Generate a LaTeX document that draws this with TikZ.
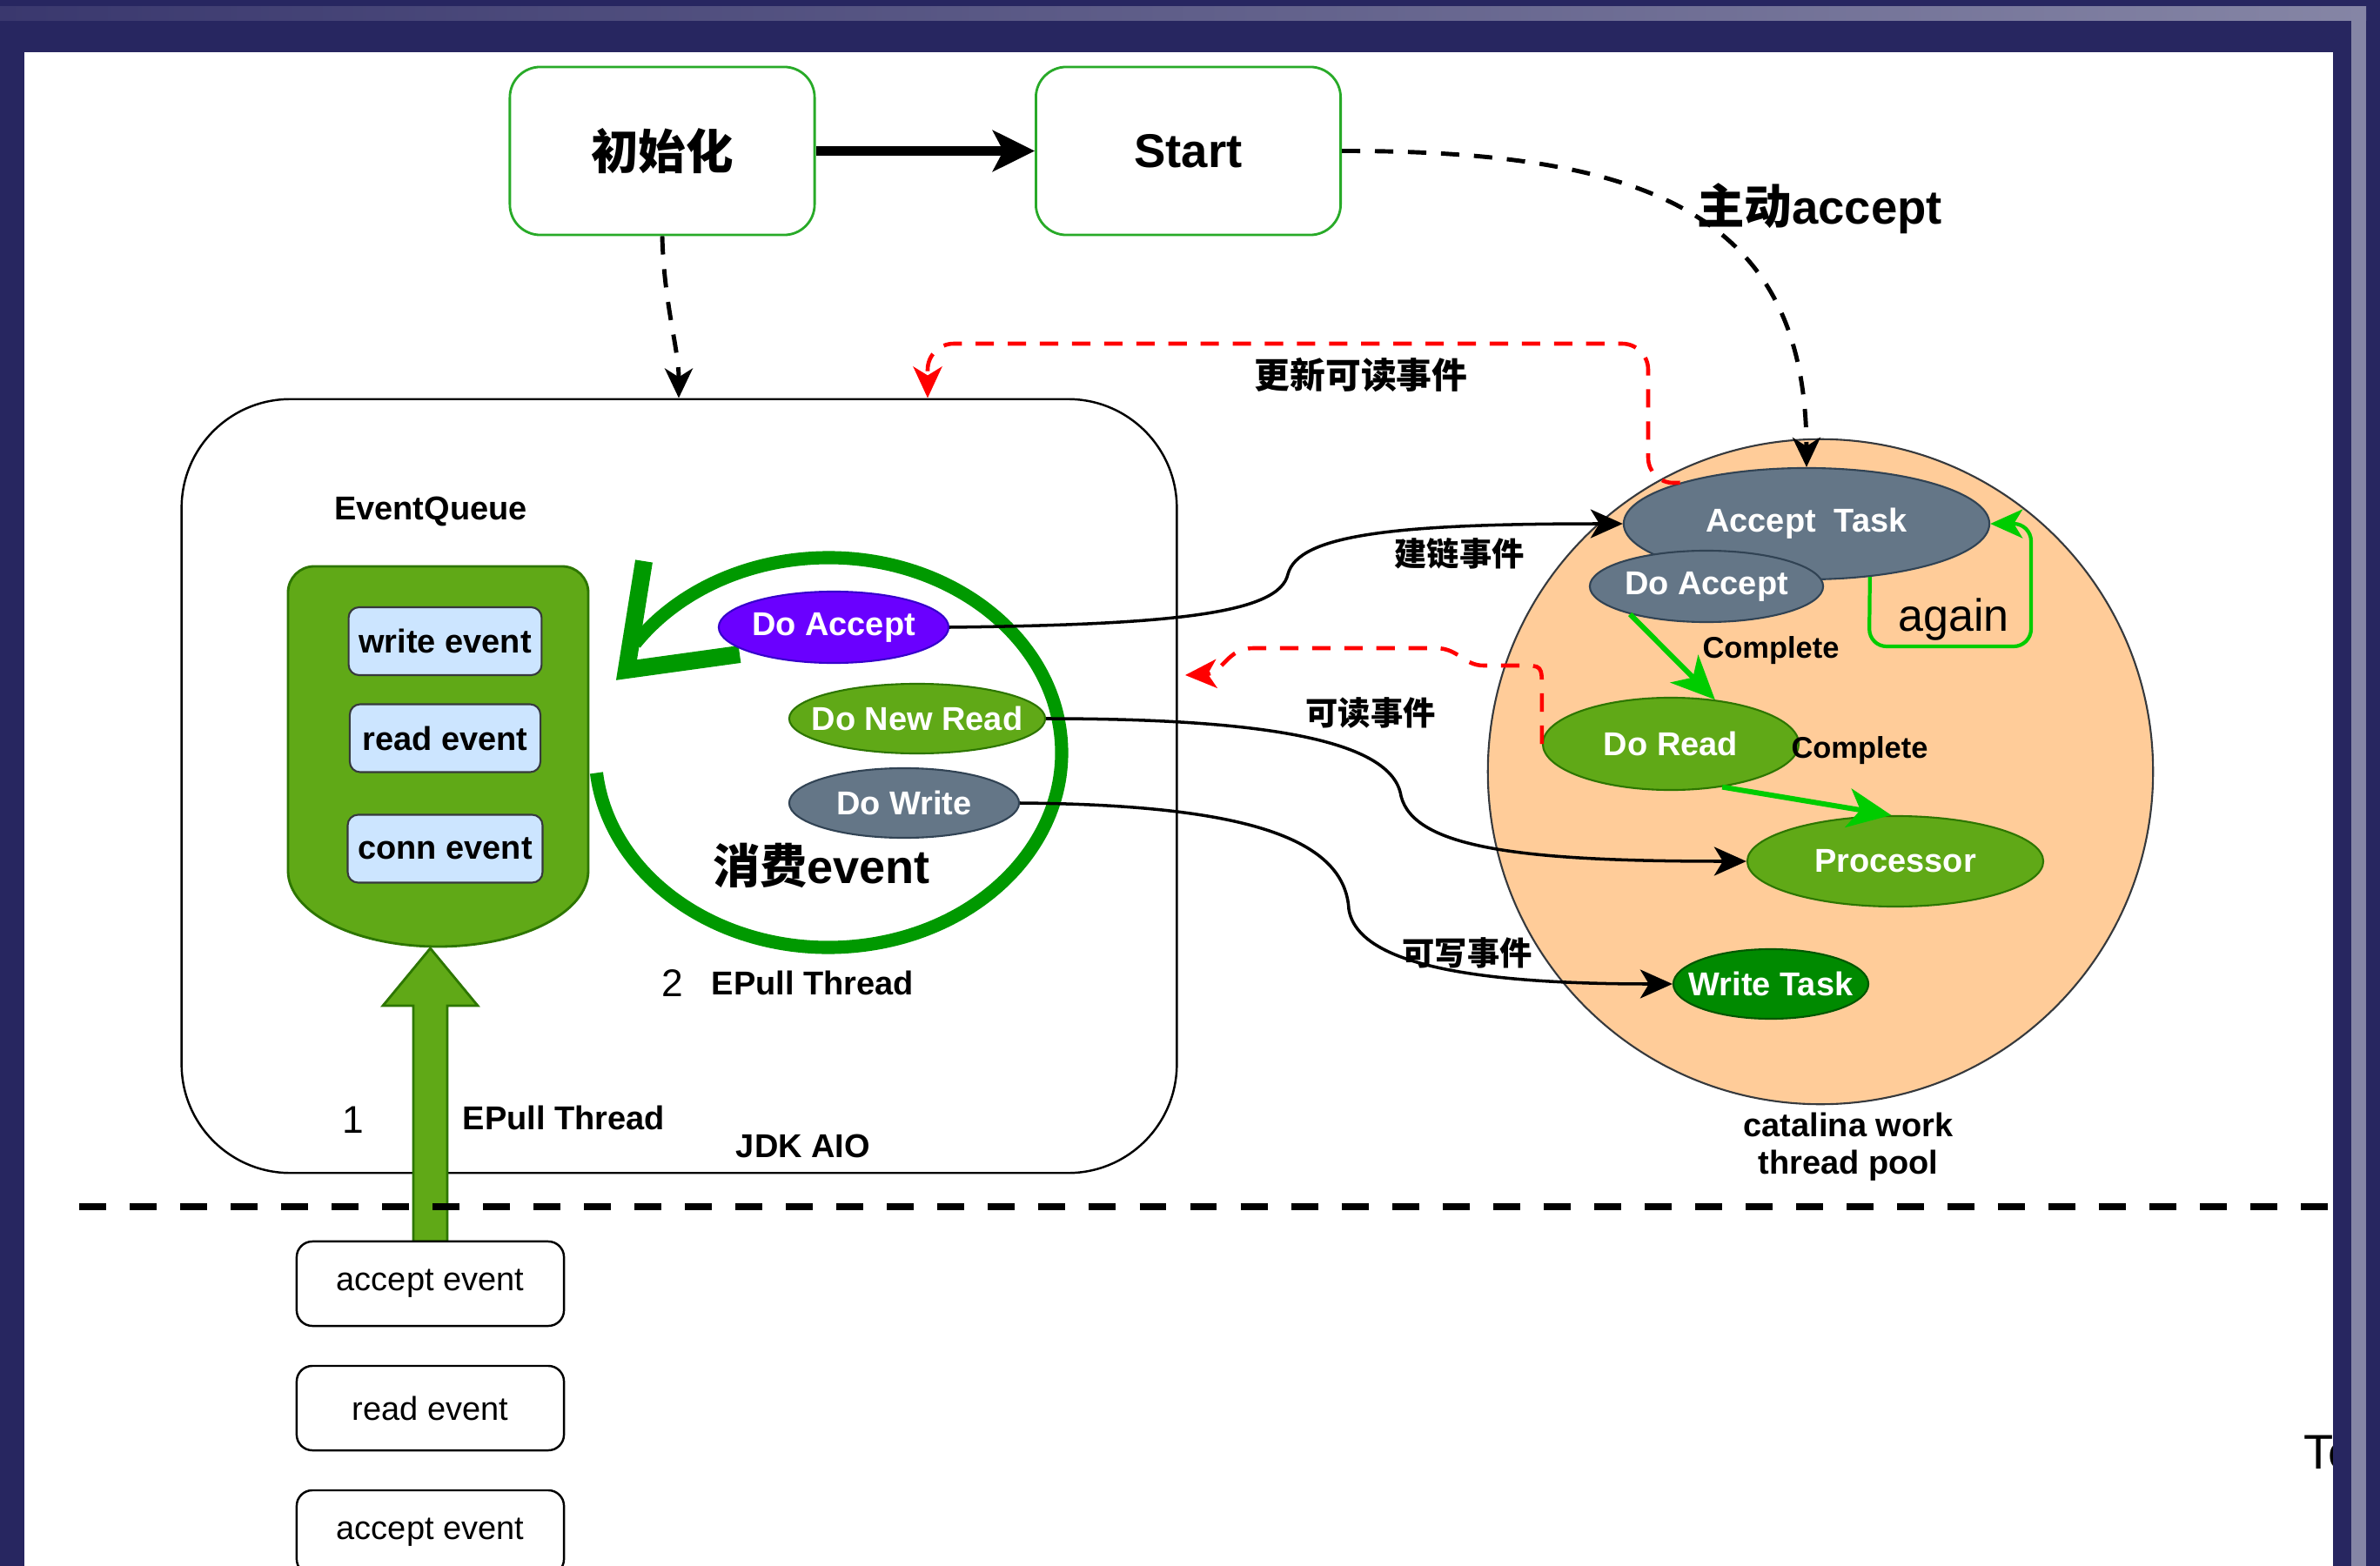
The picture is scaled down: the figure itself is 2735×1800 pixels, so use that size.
\documentclass[tikz,border=0pt]{standalone}
\usepackage{fontspec}
\setmainfont{Liberation Sans}
\newfontfamily\cjk{Noto Sans CJK SC}
\usetikzlibrary{shapes.geometric,arrows.meta,calc}

\definecolor{navy}{RGB}{39,38,96}
\definecolor{stripe}{RGB}{133,133,165}
\definecolor{stripedark}{RGB}{58,56,110}
\definecolor{qgreen}{HTML}{60A917}
\definecolor{qgreenline}{HTML}{2D7600}
\definecolor{lblue}{HTML}{CCE5FF}
\definecolor{boxline}{HTML}{36393D}
\definecolor{purp}{HTML}{6A00FF}
\definecolor{purpline}{HTML}{3700CC}
\definecolor{slate}{HTML}{647687}
\definecolor{slateline}{HTML}{314354}
\definecolor{peach}{HTML}{FFCC99}
\definecolor{dgreen}{HTML}{008A00}
\definecolor{dgreenline}{HTML}{005700}
\definecolor{ring}{HTML}{009900}
\definecolor{brightgreen}{HTML}{00CC00}
\definecolor{topgreen}{RGB}{40,170,40}

\begin{document}
\begin{tikzpicture}[x=0.01cm, y=-0.01cm,
  base/.style={font=\fontsize{10.8}{13}\selectfont\bfseries},
  wlbl/.style={text=white, font=\fontsize{10.8}{13}\selectfont\bfseries},
  cjklbl/.style={font=\fontsize{10.6}{13}\selectfont\cjk\bfseries},
  num/.style={font=\fontsize{12.6}{15}\selectfont},
  ell/.style={ellipse, inner sep=0pt, line width=0.6pt},
  evbox/.style={rectangle, rounded corners=0.12cm, draw=boxline, fill=lblue,
    line width=0.6pt, minimum width=2.19cm, minimum height=0.78cm,
    font=\fontsize{10.8}{13}\selectfont\bfseries},
  rawbox/.style={rectangle, rounded corners=0.18cm, draw=black, fill=white,
    line width=0.7pt, minimum width=3.07cm, minimum height=0.97cm,
    font=\fontsize{10.8}{13}\selectfont},
  topbox/.style={rectangle, rounded corners=0.35cm, draw=topgreen, line width=0.8pt,
    minimum width=3.5cm, minimum height=1.93cm,
    font=\fontsize{15.5}{18}\selectfont\bfseries},
  dashblack/.style={dash pattern=on 6pt off 4.8pt, line width=1.4pt,
    -{Stealth[length=0.34cm,width=0.32cm,inset=0.1cm]}},
  dashred/.style={red, dash pattern=on 6pt off 4.5pt, line width=1.3pt,
    -{Stealth[length=0.36cm,width=0.33cm,inset=0.1cm]}},
  flow/.style={line width=1pt, -{Stealth[length=0.37cm,width=0.33cm,inset=0.1cm]}},
  done/.style={brightgreen, line width=1.7pt,
    -{Stealth[length=0.5cm,width=0.45cm,inset=0.14cm]}},
]
\useasboundingbox (0,0) rectangle (2735,1800);

% window frame and page
\fill[navy] (0,0) rectangle (2735,1800);
\shade[left color=stripedark, right color=stripe] (0,8) rectangle (2719,24);
\fill[white] (28,60) rectangle (2681,1800);

% start-up steps
\node[topbox] (init) at (761,173.5) {\cjk\bfseries 初始化};
\node[topbox] (start) at (1365.5,173.5) {Start};
\draw[line width=2.85pt, -{Stealth[length=0.48cm,width=0.47cm,inset=0.12cm]}] (init) -- (start);

% JDK AIO container
\node[draw, line width=0.7pt, rounded corners=1.25cm, minimum width=11.43cm,
      minimum height=8.89cm] (jdk) at (780.5,903.5) {};
\draw[dashblack] (init.south) .. controls (763,350) and (780,400) .. (780,0 |- jdk.north);

% event queue
\draw[fill=qgreen, draw=qgreenline, line width=0.8pt]
  (676,1001) arc[start angle=0, end angle=180, x radius=172.5, y radius=87]
  -- (331,681) arc[start angle=180, end angle=270, radius=30]
  -- (646,651) arc[start angle=270, end angle=360, radius=30] -- cycle;
\node[base] (eq) at (495,588) {EventQueue};
\node[evbox] (wev) at (511.5,737) {write event};
\node[evbox] (rev) at (511.5,848.5) {read event};
\node[evbox] (cev) at (511.5,975.5) {conn event};

% block arrow feeding the queue
\coordinate (qtip) at (494.5,1090);
\fill[qgreen, draw=qgreenline, line width=0.8pt]
  (475,1427) -- (475,1156) -- (440,1156) -- (qtip) -- (549,1156) -- (514,1156)
  -- (514,1427) -- cycle;

% consuming loop
\draw[ring, line width=4.3pt] (952,865) ++(174:268 and 224)
  arc[start angle=174, end angle=-146, x radius=268, y radius=224];
\draw[ring, line width=5.7pt, line join=miter] (740,645) -- (720,770) -- (850,752);

\node[ell, fill=purp, draw=purpline, minimum width=2.64cm, minimum height=0.82cm] (doacc1) at (958,721) {};
\node[wlbl] (doacc1t) at (doacc1) {Do Accept};
\node[ell, fill=qgreen, draw=qgreenline, minimum width=2.94cm, minimum height=0.80cm] (donew) at (1054,826) {};
\node[wlbl] (donewt) at (donew) {Do New Read};
\node[ell, fill=slate, draw=slateline, minimum width=2.64cm, minimum height=0.80cm] (dowrite) at (1039,923) {};
\node[wlbl] (dowritet) at (dowrite) {Do Write};

\node[font=\fontsize{15.4}{18}\selectfont\bfseries] (consume) at (944,995) {{\cjk 消费}event};
\node[num] (n2) at (773,1130) {2};
\node[base] (ep2) at (934,1130) {EPull Thread};
\node[num] (n1) at (406,1287) {1};
\node[base] (ep1) at (648,1285) {EPull Thread};
\node[base] (aio) at (923,1317) {JDK AIO};

% worker thread pool
\node[circle, fill=peach, draw=boxline, line width=0.6pt, minimum size=7.64cm, inner sep=0pt] (pool) at (2092,887) {};
\node[base, align=center, font=\fontsize{10.8}{12.2}\selectfont\bfseries] (poolname) at (2124,1318) {catalina work\\thread pool};

\node[ell, fill=slate, draw=slateline, minimum width=4.20cm, minimum height=1.28cm] (acctask) at (2076,602) {};
\node[wlbl] (acctaskt) at (acctask) {Accept\ \ Task};
\node[ell, fill=slate, draw=slateline, minimum width=2.68cm, minimum height=0.82cm] (doacc2) at (1961,674) {};
\node[wlbl] (doacc2t) at (doacc2) {Do Accept};
\node[ell, fill=qgreen, draw=qgreenline, minimum width=2.94cm, minimum height=1.06cm] (doread) at (1920,855) {};
\node[wlbl] (doreadt) at (doread) {Do Read};
\node[ell, fill=qgreen, draw=qgreenline, minimum width=3.40cm, minimum height=1.04cm] (proc) at (2178,990) {};
\node[wlbl] (proct) at (proc) {Processor};
\node[ell, fill=dgreen, draw=dgreenline, minimum width=2.24cm, minimum height=0.80cm] (wtask) at (2035,1131) {};
\node[wlbl] (wtaskt) at (wtask) {Write Task};

% start accepting
\draw[dashblack] (start.east) .. controls (1900,173) and (2075,250) .. (acctask.north);
\node[font=\fontsize{15.5}{18}\selectfont\bfseries] (l5) at (2091,240) {{\cjk 主动}accept};

% events handed to the pool
\draw[flow] (doacc1.east) .. controls (1350,718) and (1470,705) .. (1480,660)
  .. controls (1492,615) and (1600,602) .. (acctask.west);
\draw[flow] (donew.east) .. controls (1450,826) and (1600,850) .. (1610,915)
  .. controls (1625,975) and (1750,990) .. (proc.west);
\draw[flow] (dowrite.east) .. controls (1420,925) and (1545,960) .. (1550,1045)
  .. controls (1560,1110) and (1700,1131) .. (wtask.west);
\node[cjklbl] (l1) at (1677,636) {建链事件};
\node[cjklbl] (l2) at (1575,819) {可读事件};
\node[cjklbl] (l3) at (1686,1095) {可写事件};

% readiness updates sent back
\draw[dashred, rounded corners=0.3cm] (acctask.162) -- (1894,556) -- (1894,395) -- (1066,395) -- (1066,0 |- jdk.north);
\node[font=\fontsize{11.6}{14}\selectfont\cjk\bfseries] (l4) at (1564,431) {更新可读事件};
\coordinate (rdin) at (1362,776);
\draw[dashred] (doread.west) -- (doread.west |- 0,792)
  .. controls (doread.west |- 0,765) .. (1748,765) -- (1705,765)
  .. controls (1682,765) and (1676,745) .. (1650,745) -- (1440,745)
  .. controls (1410,745) and (1405,774) .. (rdin);

% completion flow inside the pool
\draw[done] (doacc2.200) -- (doread.45);
\draw[done] (doread.-40) -- (proc.95);
\draw[brightgreen, line width=1.2pt, rounded corners=0.2cm,
      -{Stealth[length=0.37cm,width=0.33cm,inset=0.1cm]}]
  (acctask.-40) -- (2148,743) -- (2334,743) -- (2334,602) -- (acctask.east);
\node[font=\fontsize{9.8}{12}\selectfont\bfseries] (c1) at (2035,748) {Complete};
\node[font=\fontsize{9.8}{12}\selectfont\bfseries] (c2) at (2137,863) {Complete};
\node[font=\fontsize{14.8}{17}\selectfont] (again) at (2245,712) {again};

% kernel / user boundary
\draw[line width=2.5pt, dash pattern=on 8.8pt off 7.7pt] (91,1387) -- (2681,1387);

% raw events
\node[rawbox] (acc1) at (494.5,1475.5) {accept event};
\node[rawbox] (rd1) at (494.5,1618.5) {read event};
\node[rawbox] (acc2) at (494.5,1761.5) {accept event};

\node[anchor=west, inner sep=0pt, font=\fontsize{15.9}{18}\selectfont] (te) at (2647,1670) {Te};

% right side of the window frame
\fill[navy] (2681,24) rectangle (2735,1800);
\fill[stripe] (2702,24) rectangle (2719,1800);
\end{tikzpicture}
\end{document}
